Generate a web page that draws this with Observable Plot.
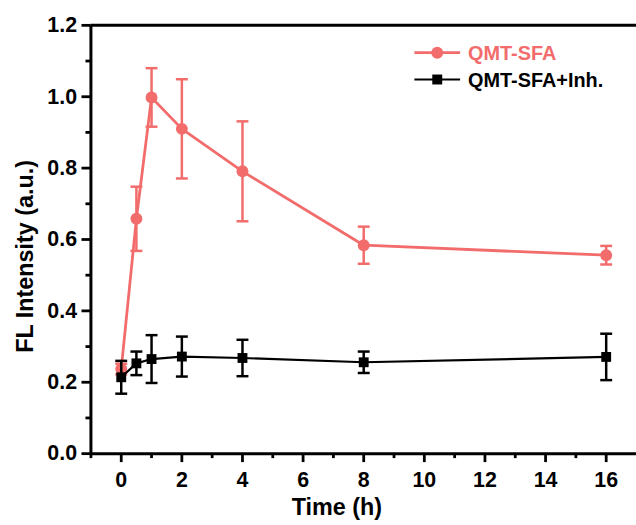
<!DOCTYPE html>
<html>
<head>
<meta charset="utf-8">
<script src="https://cdn.jsdelivr.net/npm/d3@7"></script>
<script src="https://cdn.jsdelivr.net/npm/@observablehq/plot@0.6"></script>
<style>
  html, body { margin: 0; padding: 0; background: #fff; overflow: hidden; }
  #wrap { width: 636px; height: 525px; overflow: hidden; position: relative; }
</style>
</head>
<body>
<div id="wrap"></div>
<script>
// ---- data ----
const times = [0, 0.5, 1, 2, 4, 8, 16];
const sfaMean = [0.237, 0.658, 0.998, 0.910, 0.791, 0.584, 0.556];
const sfaErr  = [0.015, 0.090, 0.082, 0.139, 0.140, 0.052, 0.026];
const inhMean = [0.214, 0.253, 0.265, 0.272, 0.268, 0.256, 0.271];
const inhErr  = [0.046, 0.033, 0.067, 0.056, 0.051, 0.030, 0.065];
const seriesNames = ["QMT-SFA", "QMT-SFA+Inh."];
const xMajorTicks = [0, 2, 4, 6, 8, 10, 12, 14, 16];
const xMinorTicks = [-1, 1, 3, 5, 7, 9, 11, 13, 15];
const yMajorTicks = [0, 0.2, 0.4, 0.6, 0.8, 1.0, 1.2];
const yMinorTicks = [0.1, 0.3, 0.5, 0.7, 0.9, 1.1];
const xTitle = "Time (h)";
const yTitle = "FL Intensity (a.u.)";

const RED = "#F26C6C";
const BLACK = "#000";

const sfa = times.map((t, i) => ({t, v: sfaMean[i], lo: sfaMean[i] - sfaErr[i], hi: sfaMean[i] + sfaErr[i]}));
const inh = times.map((t, i) => ({t, v: inhMean[i], lo: inhMean[i] - inhErr[i], hi: inhMean[i] + inhErr[i]}));

const capSymbol = {
  draw(ctx) { ctx.moveTo(-6, 0); ctx.lineTo(6, 0); }
};

const font = "'Liberation Sans', Arial, sans-serif";

function series(data, color, symbol, r, lw) {
  return [
    Plot.line(data, {x: "t", y: "v", stroke: color, strokeWidth: lw}),
    Plot.ruleX(data, {x: "t", y1: "lo", y2: "hi", stroke: color, strokeWidth: 2.5}),
    Plot.dot(data, {x: "t", y: "lo", symbol: capSymbol, r: 3, fill: "none", stroke: color, strokeWidth: 2.5}),
    Plot.dot(data, {x: "t", y: "hi", symbol: capSymbol, r: 3, fill: "none", stroke: color, strokeWidth: 2.5}),
    Plot.dot(data, {x: "t", y: "v", symbol, r, fill: color, stroke: "none"})
  ];
}

const chart = Plot.plot({
  width: 640,
  height: 525,
  marginLeft: 91,
  marginRight: 0,
  marginTop: 25,
  marginBottom: 69,
  style: {fontFamily: font, fontWeight: "bold", fontSize: "21px", color: "#000", background: "#fff", overflow: "visible"},
  x: {domain: [-1, 17]},
  y: {domain: [0, 1.2]},
  marks: [
    ...series(sfa, RED, "circle", 6, 2.8),
    ...series(inh, BLACK, "square", 5.6, 2.2),
    Plot.ruleY([0], {stroke: BLACK, strokeWidth: 3}),
    Plot.ruleY([1.2], {stroke: BLACK, strokeWidth: 3}),
    Plot.ruleX([-1], {stroke: BLACK, strokeWidth: 3}),
    Plot.axisX(xMajorTicks, {tickSize: 9, tickPadding: 9, strokeWidth: 2.8, fontSize: 21.5, fontWeight: "bold", tickFormat: d => String(d), label: null}),
    Plot.axisX(xMinorTicks, {tickSize: 5, strokeWidth: 2.8, tickFormat: () => "", label: null}),
    Plot.axisY(yMajorTicks, {tickSize: 9, tickPadding: 5, strokeWidth: 2.8, fontSize: 21.5, fontWeight: "bold", tickFormat: d3.format(".1f"), label: null}),
    Plot.axisY(yMinorTicks, {tickSize: 5, strokeWidth: 2.8, tickFormat: () => "", label: null})
  ]
});

document.getElementById("wrap").appendChild(chart);

// axis titles and legend
const svg = d3.select(chart);
svg.append("text")
  .attr("x", 339).attr("y", 510)
  .attr("text-anchor", "middle").attr("dominant-baseline", "central")
  .style("font-family", font).style("font-weight", "bold").style("font-size", "23.5px")
  .text(xTitle);
svg.append("text")
  .attr("transform", "translate(25,258) rotate(-90)")
  .attr("text-anchor", "middle").attr("dominant-baseline", "central")
  .style("font-family", font).style("font-weight", "bold").style("font-size", "23.5px")
  .text(yTitle);

const legend = svg.append("g").attr("text-anchor", "start");
const rows = [
  {name: seriesNames[0], color: RED, sym: "circle", y: 53},
  {name: seriesNames[1], color: BLACK, sym: "square", y: 80}
];
rows.forEach(rw => {
  legend.append("line").attr("x1", 417).attr("x2", 463).attr("y1", rw.y).attr("y2", rw.y)
    .attr("stroke", rw.color).attr("stroke-width", rw.sym === "circle" ? 2.8 : 2.2);
  if (rw.sym === "circle") {
    legend.append("circle").attr("cx", 440).attr("cy", rw.y).attr("r", 6).attr("fill", rw.color);
  } else {
    legend.append("rect").attr("x", 435).attr("y", rw.y - 5).attr("width", 10).attr("height", 10).attr("fill", rw.color);
  }
  legend.append("text").attr("x", 471).attr("y", rw.y)
    .attr("text-anchor", "start")
    .attr("dominant-baseline", "central")
    .style("font-family", font).style("font-weight", "bold").style("font-size", "20px")
    .attr("fill", rw.color).text(rw.name);
});
</script>
</body>
</html>
